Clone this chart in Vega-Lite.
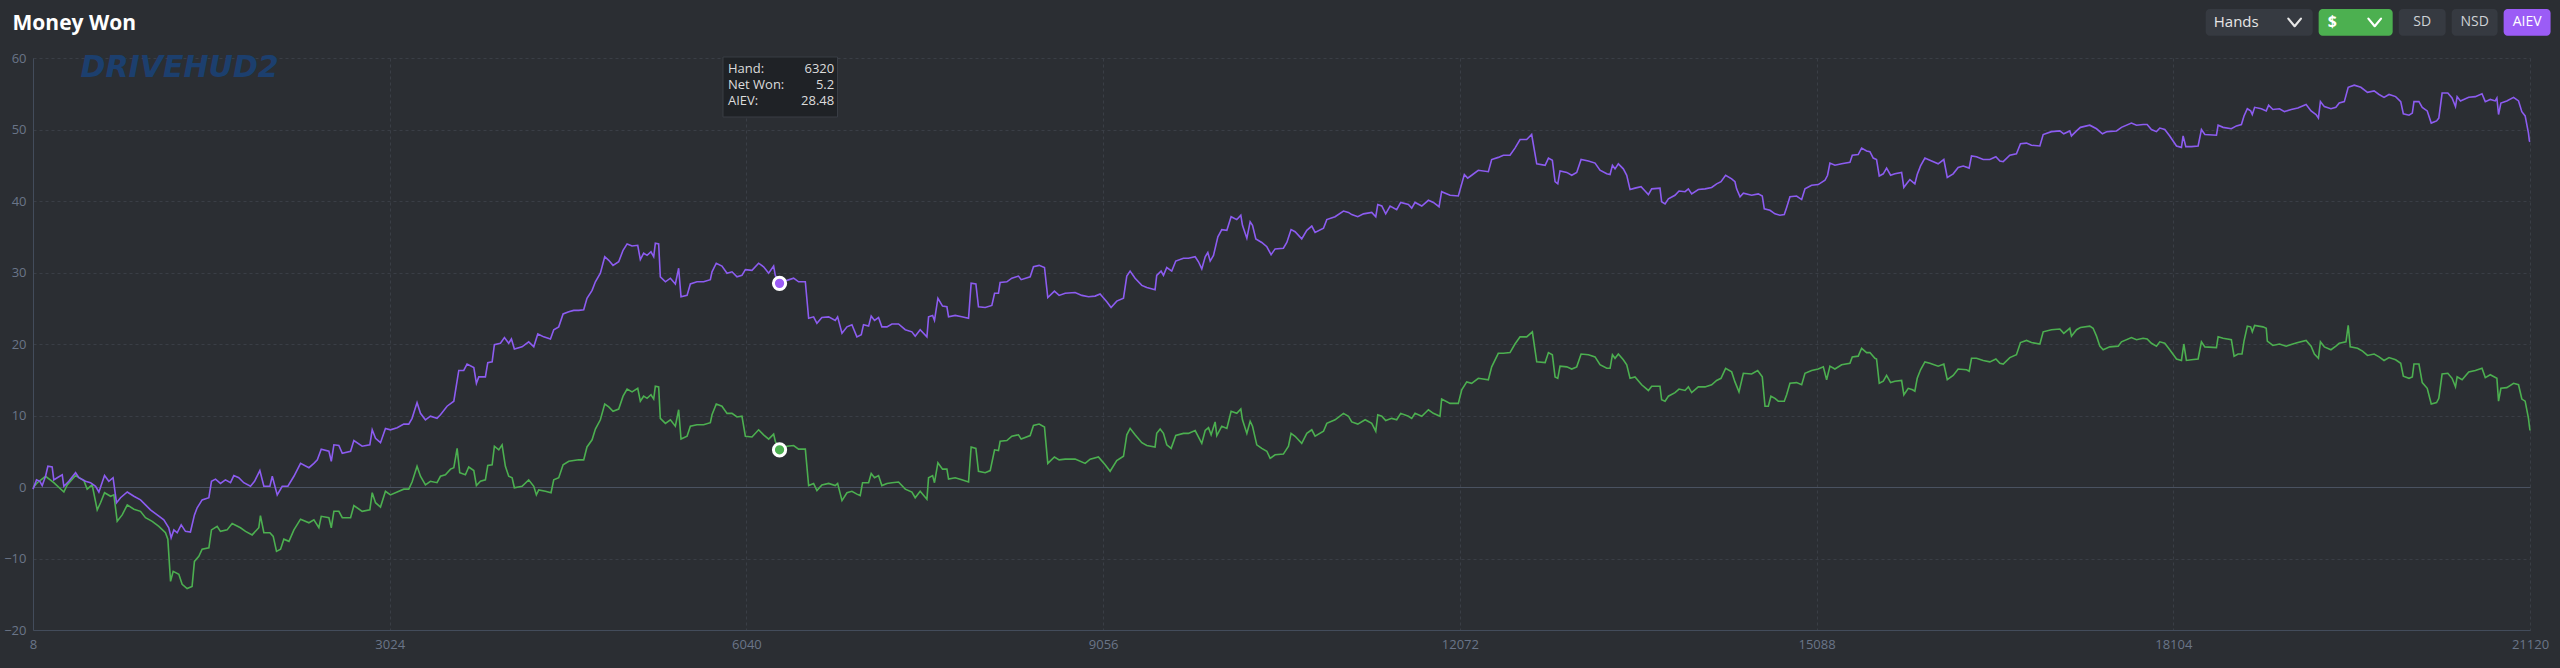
{
  "$schema": "https://vega.github.io/schema/vega-lite/v6.json",
  "description": "Money Won",
  "width": 2497,
  "height": 572,
  "autosize": {"type": "none"},
  "padding": {"left": 33, "top": 58, "right": 30, "bottom": 38},
  "background": "#2b2e33",
  "data": {"values": [{}]},
  "datasets": {
    "aiev": [
      {"hand":8,"value":-0.3},{"hand":38,"value":1.0},{"hand":66,"value":0.8},{"hand":86,"value":0.2},{"hand":114,"value":1.5},{"hand":134,"value":2.9},{"hand":170,"value":2.8},{"hand":184,"value":1.0},{"hand":213,"value":1.3},{"hand":255,"value":1.7},{"hand":269,"value":0.1},{"hand":311,"value":0.8},{"hand":368,"value":2.0},{"hand":396,"value":1.3},{"hand":452,"value":0.8},{"hand":494,"value":0.6},{"hand":537,"value":0.1},{"hand":565,"value":-0.7},{"hand":613,"value":1.6},{"hand":649,"value":0.8},{"hand":685,"value":1.3},{"hand":714,"value":-2.2},{"hand":748,"value":-1.5},{"hand":805,"value":-0.7},{"hand":861,"value":-1.3},{"hand":917,"value":-1.8},{"hand":959,"value":-2.5},{"hand":1001,"value":-3.2},{"hand":1058,"value":-3.9},{"hand":1114,"value":-4.6},{"hand":1156,"value":-5.7},{"hand":1176,"value":-7.1},{"hand":1199,"value":-6.0},{"hand":1227,"value":-6.4},{"hand":1261,"value":-5.3},{"hand":1297,"value":-6.2},{"hand":1339,"value":-6.3},{"hand":1373,"value":-3.9},{"hand":1396,"value":-2.9},{"hand":1438,"value":-1.8},{"hand":1495,"value":-1.5},{"hand":1517,"value":0.8},{"hand":1551,"value":1.1},{"hand":1593,"value":0.5},{"hand":1635,"value":1.0},{"hand":1678,"value":0.6},{"hand":1706,"value":1.6},{"hand":1748,"value":1.3},{"hand":1790,"value":0.6},{"hand":1847,"value":0.1},{"hand":1881,"value":0.8},{"hand":1926,"value":2.3},{"hand":1960,"value":0.1},{"hand":2011,"value":0.1},{"hand":2031,"value":1.5},{"hand":2073,"value":-1.1},{"hand":2115,"value":0.1},{"hand":2163,"value":0.1},{"hand":2214,"value":1.5},{"hand":2270,"value":3.3},{"hand":2341,"value":2.7},{"hand":2383,"value":3.3},{"hand":2412,"value":3.8},{"hand":2445,"value":5.3},{"hand":2510,"value":5.0},{"hand":2530,"value":3.6},{"hand":2552,"value":5.9},{"hand":2594,"value":5.8},{"hand":2623,"value":4.7},{"hand":2693,"value":5.0},{"hand":2721,"value":6.5},{"hand":2791,"value":5.7},{"hand":2856,"value":5.9},{"hand":2876,"value":8.0},{"hand":2904,"value":6.8},{"hand":2946,"value":6.2},{"hand":2988,"value":8.2},{"hand":3030,"value":8.0},{"hand":3087,"value":8.3},{"hand":3143,"value":8.8},{"hand":3185,"value":8.8},{"hand":3213,"value":9.6},{"hand":3255,"value":11.8},{"hand":3284,"value":10.3},{"hand":3326,"value":9.4},{"hand":3368,"value":9.9},{"hand":3424,"value":9.6},
      {"hand":3453,"value":10.1},{"hand":3509,"value":11.3},{"hand":3566,"value":12.0},{"hand":3608,"value":16.3},{"hand":3650,"value":16.3},{"hand":3678,"value":17.2},{"hand":3735,"value":16.7},{"hand":3757,"value":14.5},{"hand":3777,"value":15.4},{"hand":3833,"value":15.4},{"hand":3853,"value":17.4},{"hand":3890,"value":17.5},{"hand":3909,"value":19.9},{"hand":3960,"value":20.1},{"hand":3994,"value":20.9},{"hand":4030,"value":20.1},{"hand":4053,"value":20.7},{"hand":4078,"value":19.3},{"hand":4143,"value":19.6},{"hand":4199,"value":20.3},{"hand":4242,"value":19.6},{"hand":4276,"value":21.4},{"hand":4326,"value":21.0},{"hand":4383,"value":20.7},{"hand":4411,"value":22.0},{"hand":4453,"value":22.4},{"hand":4490,"value":24.2},{"hand":4538,"value":24.5},{"hand":4580,"value":24.7},{"hand":4622,"value":24.7},{"hand":4664,"value":24.8},{"hand":4692,"value":26.4},{"hand":4735,"value":27.5},{"hand":4763,"value":28.7},{"hand":4805,"value":29.9},{"hand":4842,"value":32.2},{"hand":4876,"value":31.7},{"hand":4912,"value":31.0},{"hand":4960,"value":31.5},{"hand":4997,"value":33.1},{"hand":5031,"value":34.0},{"hand":5073,"value":33.7},{"hand":5121,"value":33.8},{"hand":5143,"value":31.8},{"hand":5171,"value":32.7},{"hand":5200,"value":32.4},{"hand":5233,"value":32.9},{"hand":5256,"value":32.2},{"hand":5270,"value":34.1},{"hand":5298,"value":34.0},{"hand":5312,"value":29.4},{"hand":5355,"value":28.7},{"hand":5397,"value":29.2},{"hand":5439,"value":28.4},{"hand":5467,"value":30.6},{"hand":5487,"value":26.6},{"hand":5538,"value":26.8},{"hand":5566,"value":28.4},{"hand":5622,"value":28.7},{"hand":5678,"value":28.7},{"hand":5735,"value":29.0},{"hand":5749,"value":30.1},{"hand":5785,"value":31.3},{"hand":5833,"value":30.9},{"hand":5876,"value":29.9},{"hand":5918,"value":30.1},{"hand":5960,"value":29.4},{"hand":6002,"value":29.6},{"hand":6031,"value":30.4},{"hand":6087,"value":30.3},{"hand":6143,"value":31.3},{"hand":6185,"value":30.8},{"hand":6228,"value":29.9},{"hand":6270,"value":30.9},{"hand":6284,"value":29.6},{"hand":6320,"value":28.48},{"hand":6383,"value":28.9},{"hand":6439,"value":29.2},{"hand":6481,"value":28.7},{"hand":6538,"value":28.7},{"hand":6566,"value":23.6},{"hand":6608,"value":23.8},{"hand":6636,"value":22.9},{"hand":6678,"value":23.7},{"hand":6735,"value":23.8},{"hand":6791,"value":23.3},{"hand":6811,"value":23.8},{"hand":6848,"value":21.5},{"hand":6890,"value":22.4},{"hand":6932,"value":22.7},
      {"hand":6974,"value":21.0},{"hand":7011,"value":21.3},{"hand":7030,"value":22.7},{"hand":7073,"value":22.5},{"hand":7095,"value":23.9},{"hand":7123,"value":23.3},{"hand":7157,"value":23.7},{"hand":7185,"value":22.4},{"hand":7228,"value":22.4},{"hand":7270,"value":22.8},{"hand":7326,"value":22.8},{"hand":7383,"value":22.0},{"hand":7439,"value":21.7},{"hand":7467,"value":21.1},{"hand":7509,"value":22.0},{"hand":7566,"value":21.0},{"hand":7580,"value":23.8},{"hand":7614,"value":24.0},{"hand":7630,"value":23.3},{"hand":7659,"value":26.4},{"hand":7698,"value":25.3},{"hand":7735,"value":25.2},{"hand":7749,"value":23.8},{"hand":7805,"value":24.0},{"hand":7861,"value":23.8},{"hand":7918,"value":23.6},{"hand":7940,"value":28.5},{"hand":7980,"value":28.4},{"hand":8002,"value":25.2},{"hand":8059,"value":25.1},{"hand":8115,"value":25.4},{"hand":8138,"value":27.1},{"hand":8171,"value":27.1},{"hand":8185,"value":28.6},{"hand":8242,"value":28.7},{"hand":8284,"value":29.2},{"hand":8340,"value":29.5},{"hand":8363,"value":29.0},{"hand":8439,"value":29.4},{"hand":8467,"value":30.8},{"hand":8515,"value":31.0},{"hand":8560,"value":30.7},{"hand":8588,"value":26.5},{"hand":8644,"value":27.4},{"hand":8684,"value":26.8},{"hand":8735,"value":27.1},{"hand":8819,"value":27.2},{"hand":8876,"value":26.8},{"hand":8932,"value":26.6},{"hand":8988,"value":26.7},{"hand":9030,"value":27.0},{"hand":9087,"value":25.9},{"hand":9123,"value":25.1},{"hand":9171,"value":26.0},{"hand":9228,"value":26.4},{"hand":9256,"value":29.5},{"hand":9284,"value":30.2},{"hand":9326,"value":29.2},{"hand":9383,"value":28.2},{"hand":9425,"value":27.9},{"hand":9495,"value":27.6},{"hand":9509,"value":29.6},{"hand":9546,"value":30.2},{"hand":9566,"value":29.6},{"hand":9594,"value":30.7},{"hand":9636,"value":30.2},{"hand":9670,"value":31.6},{"hand":9735,"value":32.0},{"hand":9777,"value":32.0},
      {"hand":9834,"value":32.2},{"hand":9862,"value":31.5},{"hand":9890,"value":30.5},{"hand":9919,"value":32.2},{"hand":9941,"value":32.8},{"hand":9961,"value":31.6},{"hand":9989,"value":32.4},{"hand":10026,"value":35.0},{"hand":10059,"value":36.0},{"hand":10102,"value":35.9},{"hand":10138,"value":37.8},{"hand":10186,"value":37.4},{"hand":10220,"value":38.0},{"hand":10234,"value":36.6},{"hand":10271,"value":34.8},{"hand":10299,"value":37.1},{"hand":10319,"value":36.6},{"hand":10347,"value":34.7},{"hand":10397,"value":34.2},{"hand":10440,"value":33.6},{"hand":10476,"value":32.5},{"hand":10510,"value":33.3},{"hand":10580,"value":33.4},{"hand":10609,"value":34.2},{"hand":10645,"value":36.0},{"hand":10679,"value":35.7},{"hand":10735,"value":34.7},{"hand":10778,"value":35.9},{"hand":10820,"value":36.5},{"hand":10848,"value":35.6},{"hand":10919,"value":36.2},{"hand":10947,"value":37.4},{"hand":11017,"value":37.8},{"hand":11088,"value":38.6},{"hand":11130,"value":38.4},{"hand":11158,"value":38.1},{"hand":11209,"value":37.8},{"hand":11257,"value":38.2},{"hand":11327,"value":38.4},{"hand":11361,"value":37.8},{"hand":11378,"value":39.5},{"hand":11412,"value":39.3},{"hand":11445,"value":38.2},{"hand":11482,"value":39.3},{"hand":11538,"value":38.8},{"hand":11572,"value":39.8},{"hand":11637,"value":39.5},{"hand":11665,"value":39.0},{"hand":11693,"value":39.8},{"hand":11750,"value":39.3},{"hand":11806,"value":40.1},{"hand":11848,"value":39.8},{"hand":11896,"value":39.2},{"hand":11918,"value":41.3},{"hand":11989,"value":40.8},{"hand":12059,"value":40.7},{"hand":12110,"value":43.7},{"hand":12138,"value":43.2},{"hand":12172,"value":43.6},{"hand":12228,"value":44.3},{"hand":12313,"value":44.1},{"hand":12341,"value":45.8},{"hand":12397,"value":46.1},{"hand":12440,"value":46.4},{"hand":12496,"value":46.4},{"hand":12538,"value":47.4},{"hand":12581,"value":48.6},{"hand":12637,"value":48.6},{"hand":12679,"value":49.3},
      {"hand":12722,"value":45.2},{"hand":12793,"value":45.0},{"hand":12821,"value":46.0},{"hand":12854,"value":45.7},{"hand":12877,"value":42.7},{"hand":12900,"value":42.4},{"hand":12919,"value":44.2},{"hand":12976,"value":44.0},{"hand":13018,"value":43.6},{"hand":13060,"value":44.0},{"hand":13097,"value":45.8},{"hand":13159,"value":45.6},{"hand":13215,"value":45.3},{"hand":13257,"value":44.3},{"hand":13314,"value":43.8},{"hand":13342,"value":43.7},{"hand":13362,"value":45.0},{"hand":13384,"value":44.5},{"hand":13412,"value":45.2},{"hand":13454,"value":44.5},{"hand":13483,"value":43.6},{"hand":13511,"value":41.6},{"hand":13553,"value":41.8},{"hand":13604,"value":42.0},{"hand":13638,"value":41.4},{"hand":13666,"value":40.9},{"hand":13694,"value":41.7},{"hand":13764,"value":41.8},{"hand":13778,"value":39.9},{"hand":13807,"value":39.6},{"hand":13835,"value":40.3},{"hand":13891,"value":40.8},{"hand":13925,"value":41.4},{"hand":13976,"value":41.3},{"hand":14004,"value":41.7},{"hand":14032,"value":41.0},{"hand":14088,"value":41.6},{"hand":14145,"value":41.7},{"hand":14201,"value":41.9},{"hand":14243,"value":42.4},{"hand":14280,"value":42.7},{"hand":14319,"value":43.6},{"hand":14370,"value":43.1},{"hand":14398,"value":42.7},{"hand":14412,"value":41.7},{"hand":14441,"value":40.6},{"hand":14469,"value":41.1},{"hand":14539,"value":40.8},{"hand":14595,"value":41.0},{"hand":14629,"value":40.7},{"hand":14646,"value":38.9},{"hand":14694,"value":38.7},{"hand":14736,"value":38.2},{"hand":14778,"value":38.0},{"hand":14815,"value":38.1},{"hand":14835,"value":39.1},{"hand":14863,"value":40.6},{"hand":14919,"value":40.7},{"hand":14962,"value":40.2},{"hand":14990,"value":41.7},{"hand":15046,"value":42.2},{"hand":15102,"value":42.3},{"hand":15159,"value":42.9},{"hand":15181,"value":43.6},{"hand":15201,"value":45.3},{"hand":15243,"value":45.0},{"hand":15300,"value":45.2},{"hand":15370,"value":45.4},{"hand":15390,"value":46.4},{"hand":15440,"value":46.5},{"hand":15469,"value":47.4},{"hand":15511,"value":47.0},
      {"hand":15539,"value":46.9},{"hand":15567,"value":46.0},{"hand":15595,"value":45.8},{"hand":15618,"value":43.5},{"hand":15652,"value":43.8},{"hand":15680,"value":44.6},{"hand":15714,"value":43.6},{"hand":15750,"value":43.8},{"hand":15807,"value":44.0},{"hand":15826,"value":41.9},{"hand":15849,"value":42.4},{"hand":15877,"value":43.0},{"hand":15919,"value":42.4},{"hand":15939,"value":43.7},{"hand":15967,"value":44.9},{"hand":16004,"value":46.0},{"hand":16046,"value":45.7},{"hand":16116,"value":45.2},{"hand":16164,"value":45.8},{"hand":16193,"value":43.3},{"hand":16243,"value":43.8},{"hand":16285,"value":44.7},{"hand":16328,"value":44.9},{"hand":16378,"value":44.6},{"hand":16398,"value":46.3},{"hand":16440,"value":46.2},{"hand":16497,"value":45.8},{"hand":16553,"value":45.8},{"hand":16604,"value":46.2},{"hand":16638,"value":45.6},{"hand":16666,"value":45.5},{"hand":16722,"value":46.4},{"hand":16778,"value":46.6},{"hand":16812,"value":48.0},{"hand":16863,"value":48.1},{"hand":16905,"value":47.8},{"hand":16976,"value":47.7},{"hand":17004,"value":49.3},{"hand":17074,"value":49.7},{"hand":17145,"value":49.8},{"hand":17178,"value":49.4},{"hand":17229,"value":49.8},{"hand":17243,"value":49.1},{"hand":17286,"value":49.8},{"hand":17319,"value":50.3},{"hand":17398,"value":50.6},{"hand":17455,"value":50.1},{"hand":17505,"value":49.4},{"hand":17545,"value":49.7},{"hand":17624,"value":49.8},{"hand":17666,"value":50.3},{"hand":17750,"value":50.9},{"hand":17793,"value":50.6},{"hand":17849,"value":50.7},{"hand":17883,"value":50.7},{"hand":17919,"value":50.0},{"hand":17962,"value":49.7},{"hand":17990,"value":50.2},{"hand":18032,"value":50.0},{"hand":18074,"value":49.1},{"hand":18131,"value":47.7},{"hand":18173,"value":47.5},{"hand":18187,"value":49.1},{"hand":18210,"value":47.6},{"hand":18257,"value":47.6},{"hand":18314,"value":47.7},{"hand":18342,"value":50.0},
      {"hand":18371,"value":49.3},{"hand":18469,"value":49.2},{"hand":18483,"value":50.6},{"hand":18525,"value":50.3},{"hand":18595,"value":50.1},{"hand":18638,"value":50.5},{"hand":18680,"value":50.7},{"hand":18702,"value":51.9},{"hand":18730,"value":52.9},{"hand":18758,"value":52.6},{"hand":18772,"value":52.1},{"hand":18792,"value":53.1},{"hand":18848,"value":52.9},{"hand":18890,"value":52.6},{"hand":18910,"value":53.4},{"hand":18946,"value":52.8},{"hand":19002,"value":52.9},{"hand":19044,"value":52.5},{"hand":19101,"value":52.8},{"hand":19157,"value":53.0},{"hand":19227,"value":53.5},{"hand":19269,"value":52.6},{"hand":19311,"value":52.1},{"hand":19331,"value":51.6},{"hand":19348,"value":53.9},{"hand":19381,"value":53.2},{"hand":19437,"value":52.9},{"hand":19479,"value":53.1},{"hand":19507,"value":53.7},{"hand":19550,"value":53.9},{"hand":19583,"value":55.9},{"hand":19634,"value":56.2},{"hand":19690,"value":55.9},{"hand":19746,"value":55.2},{"hand":19802,"value":55.4},{"hand":19844,"value":54.9},{"hand":19886,"value":54.5},{"hand":19928,"value":54.9},{"hand":19984,"value":54.6},{"hand":20027,"value":53.9},{"hand":20049,"value":52.2},{"hand":20097,"value":52.0},{"hand":20125,"value":52.3},{"hand":20139,"value":53.9},{"hand":20181,"value":53.9},{"hand":20209,"value":53.1},{"hand":20251,"value":52.6},{"hand":20285,"value":50.9},{"hand":20330,"value":51.2},{"hand":20349,"value":51.6},{"hand":20377,"value":55.1},{"hand":20425,"value":55.1},{"hand":20461,"value":54.4},{"hand":20490,"value":53.2},{"hand":20504,"value":54.6},{"hand":20532,"value":54.0},{"hand":20602,"value":54.5},{"hand":20658,"value":54.6},{"hand":20714,"value":55.0},{"hand":20742,"value":53.9},{"hand":20784,"value":54.2},{"hand":20826,"value":54.0},{"hand":20840,"value":54.4},{"hand":20854,"value":52.1},{"hand":20874,"value":53.7},{"hand":20924,"value":54.0},{"hand":20981,"value":54.5},{"hand":21023,"value":54.0},{"hand":21051,"value":52.5},{"hand":21079,"value":51.9},{"hand":21107,"value":49.5},{"hand":21115,"value":48.4},{"hand":21120,"value":48.3}
    ],
    "won": [
      {"hand":8,"value":-0.1},{"hand":44,"value":0.6},{"hand":114,"value":1.5},{"hand":184,"value":0.6},{"hand":269,"value":-0.7},{"hand":297,"value":0.3},{"hand":368,"value":1.6},{"hand":438,"value":0.9},{"hand":466,"value":-0.3},{"hand":508,"value":0.3},{"hand":551,"value":-3.2},{"hand":579,"value":-2.2},{"hand":613,"value":-0.8},{"hand":664,"value":-1.3},{"hand":692,"value":-1.1},{"hand":720,"value":-4.8},{"hand":762,"value":-3.9},{"hand":805,"value":-2.5},{"hand":861,"value":-3.1},{"hand":917,"value":-3.4},{"hand":959,"value":-4.3},{"hand":1016,"value":-4.8},{"hand":1072,"value":-5.5},{"hand":1128,"value":-6.4},{"hand":1148,"value":-7.3},{"hand":1171,"value":-13.2},{"hand":1193,"value":-11.8},{"hand":1241,"value":-12.2},{"hand":1269,"value":-13.6},{"hand":1311,"value":-14.2},{"hand":1353,"value":-13.9},{"hand":1373,"value":-10.4},{"hand":1410,"value":-9.7},{"hand":1438,"value":-8.7},{"hand":1495,"value":-8.5},{"hand":1517,"value":-6.0},{"hand":1565,"value":-5.5},{"hand":1593,"value":-6.2},{"hand":1649,"value":-6.0},{"hand":1692,"value":-5.1},{"hand":1762,"value":-5.7},{"hand":1805,"value":-6.2},{"hand":1861,"value":-6.7},{"hand":1917,"value":-5.7},{"hand":1931,"value":-4.0},{"hand":1960,"value":-6.4},{"hand":2011,"value":-6.4},{"hand":2039,"value":-6.9},{"hand":2067,"value":-9.0},{"hand":2101,"value":-8.7},{"hand":2129,"value":-7.3},{"hand":2172,"value":-7.6},{"hand":2214,"value":-6.0},{"hand":2270,"value":-4.5},{"hand":2341,"value":-5.0},{"hand":2383,"value":-4.6},{"hand":2425,"value":-5.7},{"hand":2445,"value":-4.1},{"hand":2510,"value":-4.3},{"hand":2530,"value":-5.7},{"hand":2552,"value":-3.4},{"hand":2594,"value":-3.4},{"hand":2623,"value":-4.3},{"hand":2693,"value":-4.3},{"hand":2721,"value":-2.6},{"hand":2791,"value":-3.4},{"hand":2856,"value":-3.2},{"hand":2876,"value":-0.8},{"hand":2904,"value":-2.2},{"hand":2946,"value":-2.8},{"hand":2988,"value":-0.6},{"hand":3030,"value":-1.1},{"hand":3087,"value":-0.7},{"hand":3143,"value":-0.3},{"hand":3185,"value":-0.3},{"hand":3213,"value":0.7},{"hand":3255,"value":2.9},{"hand":3284,"value":1.5},{"hand":3326,"value":0.3},{"hand":3368,"value":0.8},{"hand":3424,"value":0.6},
      {"hand":3453,"value":1.5},{"hand":3495,"value":1.7},{"hand":3538,"value":2.5},{"hand":3566,"value":2.7},{"hand":3594,"value":5.4},{"hand":3616,"value":2.0},{"hand":3664,"value":1.7},{"hand":3692,"value":2.8},{"hand":3735,"value":2.3},{"hand":3757,"value":0.2},{"hand":3791,"value":0.8},{"hand":3833,"value":1.0},{"hand":3853,"value":3.0},{"hand":3890,"value":3.1},{"hand":3909,"value":5.7},{"hand":3946,"value":5.2},{"hand":3974,"value":5.9},{"hand":4002,"value":2.9},{"hand":4030,"value":1.5},{"hand":4059,"value":1.3},{"hand":4078,"value":-0.1},{"hand":4143,"value":0.1},{"hand":4199,"value":1.0},{"hand":4242,"value":0.1},{"hand":4264,"value":-1.1},{"hand":4284,"value":-0.4},{"hand":4340,"value":-0.6},{"hand":4388,"value":-0.8},{"hand":4411,"value":1.0},{"hand":4453,"value":1.3},{"hand":4490,"value":3.1},{"hand":4538,"value":3.6},{"hand":4622,"value":3.8},{"hand":4664,"value":3.8},{"hand":4692,"value":5.6},{"hand":4735,"value":6.6},{"hand":4763,"value":8.1},{"hand":4805,"value":9.4},{"hand":4842,"value":11.6},{"hand":4876,"value":11.2},{"hand":4912,"value":10.6},{"hand":4960,"value":10.9},{"hand":4997,"value":12.7},{"hand":5031,"value":13.7},{"hand":5073,"value":13.3},{"hand":5121,"value":13.8},{"hand":5143,"value":12.0},{"hand":5171,"value":12.7},{"hand":5200,"value":12.4},{"hand":5233,"value":12.9},{"hand":5256,"value":12.3},{"hand":5270,"value":14.1},{"hand":5298,"value":14.0},{"hand":5312,"value":9.6},{"hand":5355,"value":8.9},{"hand":5397,"value":9.4},{"hand":5439,"value":8.5},{"hand":5467,"value":10.8},{"hand":5487,"value":6.7},{"hand":5538,"value":7.1},{"hand":5566,"value":8.5},{"hand":5622,"value":8.7},{"hand":5678,"value":8.7},{"hand":5735,"value":9.0},{"hand":5749,"value":10.1},{"hand":5785,"value":11.6},{"hand":5833,"value":11.3},{"hand":5876,"value":10.3},{"hand":5918,"value":10.3},{"hand":5960,"value":9.8},{"hand":6002,"value":9.9},{"hand":6031,"value":7.1},{"hand":6087,"value":7.0},{"hand":6143,"value":8.0},{"hand":6185,"value":7.3},{"hand":6228,"value":6.7},{"hand":6270,"value":7.4},{"hand":6284,"value":6.4},{"hand":6320,"value":5.2},{"hand":6383,"value":5.7},{"hand":6439,"value":5.8},{"hand":6481,"value":5.3},{"hand":6538,"value":5.3},{"hand":6566,"value":0.2},{"hand":6608,"value":0.5},{"hand":6636,"value":-0.5},{"hand":6678,"value":0.3},{"hand":6735,"value":0.5},{"hand":6791,"value":0.2},{"hand":6811,"value":0.5},{"hand":6848,"value":-1.9},{"hand":6890,"value":-0.8},{"hand":6932,"value":-0.6},
      {"hand":6974,"value":-1.0},{"hand":7002,"value":-1.2},{"hand":7022,"value":0.6},{"hand":7073,"value":0.6},{"hand":7095,"value":1.9},{"hand":7123,"value":1.3},{"hand":7157,"value":1.6},{"hand":7185,"value":0.2},{"hand":7228,"value":0.5},{"hand":7270,"value":0.6},{"hand":7326,"value":0.7},{"hand":7383,"value":-0.3},{"hand":7439,"value":-0.7},{"hand":7467,"value":-1.5},{"hand":7509,"value":-0.6},{"hand":7566,"value":-1.7},{"hand":7580,"value":1.3},{"hand":7614,"value":1.6},{"hand":7630,"value":0.6},{"hand":7659,"value":3.4},{"hand":7698,"value":2.5},{"hand":7735,"value":2.5},{"hand":7749,"value":1.1},{"hand":7805,"value":1.3},{"hand":7861,"value":1.0},{"hand":7918,"value":0.7},{"hand":7940,"value":5.6},{"hand":7980,"value":5.4},{"hand":8002,"value":2.2},{"hand":8059,"value":2.0},{"hand":8101,"value":2.3},{"hand":8138,"value":5.2},{"hand":8171,"value":5.1},{"hand":8185,"value":6.4},{"hand":8242,"value":6.5},{"hand":8284,"value":7.1},{"hand":8340,"value":7.3},{"hand":8363,"value":6.7},{"hand":8439,"value":7.2},{"hand":8467,"value":8.6},{"hand":8515,"value":8.8},{"hand":8560,"value":8.4},{"hand":8588,"value":3.3},{"hand":8644,"value":4.2},{"hand":8684,"value":3.8},{"hand":8735,"value":3.9},{"hand":8819,"value":3.9},{"hand":8904,"value":3.3},{"hand":8946,"value":3.9},{"hand":9016,"value":4.2},{"hand":9073,"value":3.1},{"hand":9115,"value":2.2},{"hand":9171,"value":3.7},{"hand":9228,"value":4.3},{"hand":9256,"value":7.3},{"hand":9284,"value":8.2},{"hand":9326,"value":7.3},{"hand":9383,"value":6.2},{"hand":9425,"value":5.8},{"hand":9495,"value":5.6},{"hand":9509,"value":7.5},{"hand":9538,"value":8.1},{"hand":9566,"value":7.5},{"hand":9594,"value":5.9},{"hand":9631,"value":5.4},{"hand":9670,"value":7.2},{"hand":9735,"value":7.5},{"hand":9777,"value":7.5},
      {"hand":9834,"value":7.9},{"hand":9868,"value":6.8},{"hand":9890,"value":6.1},{"hand":9919,"value":7.9},{"hand":9947,"value":8.3},{"hand":9969,"value":7.3},{"hand":10003,"value":9.1},{"hand":10017,"value":7.2},{"hand":10059,"value":8.5},{"hand":10102,"value":8.2},{"hand":10138,"value":10.6},{"hand":10186,"value":10.3},{"hand":10220,"value":10.9},{"hand":10234,"value":9.4},{"hand":10271,"value":7.5},{"hand":10299,"value":9.2},{"hand":10319,"value":8.5},{"hand":10355,"value":5.9},{"hand":10397,"value":5.4},{"hand":10440,"value":5.0},{"hand":10468,"value":4.0},{"hand":10510,"value":4.5},{"hand":10580,"value":4.6},{"hand":10623,"value":5.7},{"hand":10645,"value":7.5},{"hand":10679,"value":7.1},{"hand":10735,"value":6.1},{"hand":10778,"value":7.5},{"hand":10820,"value":8.0},{"hand":10848,"value":7.1},{"hand":10919,"value":7.8},{"hand":10947,"value":8.9},{"hand":11017,"value":9.4},{"hand":11088,"value":10.3},{"hand":11130,"value":9.9},{"hand":11158,"value":9.1},{"hand":11209,"value":8.8},{"hand":11271,"value":9.4},{"hand":11327,"value":8.9},{"hand":11361,"value":7.8},{"hand":11378,"value":10.1},{"hand":11412,"value":9.9},{"hand":11445,"value":9.3},{"hand":11496,"value":9.6},{"hand":11538,"value":9.4},{"hand":11572,"value":10.3},{"hand":11637,"value":9.9},{"hand":11665,"value":9.6},{"hand":11693,"value":10.3},{"hand":11750,"value":9.9},{"hand":11806,"value":10.8},{"hand":11848,"value":10.3},{"hand":11904,"value":9.9},{"hand":11918,"value":12.3},{"hand":11989,"value":11.7},{"hand":12059,"value":11.7},{"hand":12088,"value":13.6},{"hand":12130,"value":14.7},{"hand":12172,"value":14.5},{"hand":12228,"value":15.2},{"hand":12313,"value":15.0},{"hand":12341,"value":16.8},{"hand":12397,"value":18.7},{"hand":12440,"value":18.7},{"hand":12496,"value":18.8},{"hand":12538,"value":20.0},{"hand":12581,"value":21.0},{"hand":12637,"value":21.0},{"hand":12685,"value":21.7},
      {"hand":12722,"value":17.5},{"hand":12793,"value":17.4},{"hand":12821,"value":18.8},{"hand":12854,"value":18.5},{"hand":12877,"value":15.4},{"hand":12900,"value":15.2},{"hand":12919,"value":16.9},{"hand":12976,"value":16.8},{"hand":13018,"value":16.5},{"hand":13060,"value":16.8},{"hand":13097,"value":18.6},{"hand":13159,"value":18.5},{"hand":13215,"value":18.2},{"hand":13257,"value":17.1},{"hand":13314,"value":16.6},{"hand":13342,"value":16.6},{"hand":13362,"value":18.5},{"hand":13384,"value":18.0},{"hand":13412,"value":18.6},{"hand":13454,"value":17.8},{"hand":13483,"value":17.1},{"hand":13511,"value":15.2},{"hand":13553,"value":15.4},{"hand":13609,"value":14.3},{"hand":13666,"value":13.5},{"hand":13694,"value":14.1},{"hand":13764,"value":14.1},{"hand":13778,"value":12.2},{"hand":13807,"value":12.0},{"hand":13835,"value":12.7},{"hand":13891,"value":13.2},{"hand":13925,"value":13.7},{"hand":13976,"value":13.5},{"hand":14004,"value":14.0},{"hand":14032,"value":13.2},{"hand":14088,"value":14.0},{"hand":14145,"value":14.0},{"hand":14201,"value":14.3},{"hand":14243,"value":14.9},{"hand":14280,"value":15.2},{"hand":14319,"value":16.6},{"hand":14370,"value":16.1},{"hand":14398,"value":14.7},{"hand":14432,"value":13.3},{"hand":14469,"value":15.9},{"hand":14539,"value":15.8},{"hand":14590,"value":16.3},{"hand":14629,"value":15.4},{"hand":14652,"value":11.3},{"hand":14680,"value":11.3},{"hand":14702,"value":12.7},{"hand":14736,"value":12.4},{"hand":14764,"value":12.0},{"hand":14815,"value":12.0},{"hand":14835,"value":12.9},{"hand":14863,"value":14.5},{"hand":14919,"value":14.6},{"hand":14962,"value":14.3},{"hand":14990,"value":15.9},{"hand":15046,"value":16.3},{"hand":15102,"value":16.5},{"hand":15145,"value":16.8},{"hand":15173,"value":15.0},{"hand":15201,"value":16.9},{"hand":15243,"value":16.5},{"hand":15300,"value":17.1},{"hand":15370,"value":17.3},{"hand":15390,"value":18.2},{"hand":15440,"value":18.3},{"hand":15469,"value":19.4},{"hand":15511,"value":18.8},
      {"hand":15539,"value":18.8},{"hand":15581,"value":18.0},{"hand":15595,"value":17.9},{"hand":15618,"value":14.5},{"hand":15652,"value":14.8},{"hand":15680,"value":15.6},{"hand":15714,"value":14.6},{"hand":15750,"value":14.8},{"hand":15807,"value":14.9},{"hand":15826,"value":12.9},{"hand":15863,"value":13.8},{"hand":15900,"value":13.6},{"hand":15919,"value":13.4},{"hand":15939,"value":15.2},{"hand":15967,"value":16.4},{"hand":16004,"value":17.5},{"hand":16046,"value":17.3},{"hand":16116,"value":16.9},{"hand":16164,"value":17.2},{"hand":16193,"value":15.0},{"hand":16243,"value":15.6},{"hand":16285,"value":16.5},{"hand":16356,"value":16.4},{"hand":16378,"value":16.2},{"hand":16398,"value":18.0},{"hand":16440,"value":18.0},{"hand":16497,"value":17.7},{"hand":16553,"value":17.5},{"hand":16604,"value":17.9},{"hand":16638,"value":17.3},{"hand":16666,"value":17.2},{"hand":16722,"value":18.1},{"hand":16778,"value":18.5},{"hand":16812,"value":20.2},{"hand":16863,"value":20.5},{"hand":16905,"value":20.2},{"hand":16976,"value":20.0},{"hand":17004,"value":21.7},{"hand":17074,"value":22.0},{"hand":17145,"value":22.1},{"hand":17178,"value":21.5},{"hand":17229,"value":22.2},{"hand":17243,"value":21.1},{"hand":17286,"value":22.0},{"hand":17319,"value":22.3},{"hand":17398,"value":22.5},{"hand":17426,"value":22.2},{"hand":17455,"value":21.1},{"hand":17483,"value":19.7},{"hand":17511,"value":19.2},{"hand":17567,"value":19.6},{"hand":17638,"value":19.7},{"hand":17666,"value":20.3},{"hand":17750,"value":20.9},{"hand":17793,"value":20.6},{"hand":17849,"value":20.8},{"hand":17883,"value":20.7},{"hand":17919,"value":20.1},{"hand":17962,"value":19.7},{"hand":17990,"value":20.3},{"hand":18032,"value":20.1},{"hand":18074,"value":19.2},{"hand":18131,"value":17.9},{"hand":18173,"value":17.7},{"hand":18193,"value":20.0},{"hand":18215,"value":17.7},{"hand":18257,"value":17.8},{"hand":18314,"value":17.9},{"hand":18342,"value":20.3},
      {"hand":18371,"value":19.6},{"hand":18469,"value":19.5},{"hand":18483,"value":21.0},{"hand":18525,"value":20.8},{"hand":18595,"value":20.6},{"hand":18618,"value":18.3},{"hand":18652,"value":18.6},{"hand":18685,"value":18.6},{"hand":18702,"value":20.4},{"hand":18730,"value":22.5},{"hand":18758,"value":22.4},{"hand":18772,"value":21.7},{"hand":18792,"value":22.6},{"hand":18862,"value":22.4},{"hand":18890,"value":22.2},{"hand":18899,"value":20.4},{"hand":18946,"value":19.8},{"hand":19002,"value":20.0},{"hand":19058,"value":19.7},{"hand":19115,"value":20.0},{"hand":19157,"value":20.2},{"hand":19227,"value":20.5},{"hand":19269,"value":19.7},{"hand":19297,"value":18.6},{"hand":19331,"value":18.0},{"hand":19348,"value":20.3},{"hand":19381,"value":19.6},{"hand":19437,"value":19.2},{"hand":19479,"value":19.7},{"hand":19507,"value":20.1},{"hand":19564,"value":20.3},{"hand":19583,"value":22.6},{"hand":19600,"value":19.6},{"hand":19662,"value":19.4},{"hand":19704,"value":19.0},{"hand":19746,"value":18.4},{"hand":19802,"value":18.6},{"hand":19844,"value":18.2},{"hand":19886,"value":17.7},{"hand":19928,"value":18.1},{"hand":19984,"value":17.8},{"hand":20027,"value":17.3},{"hand":20049,"value":15.5},{"hand":20097,"value":15.2},{"hand":20125,"value":15.4},{"hand":20139,"value":17.2},{"hand":20181,"value":17.2},{"hand":20209,"value":14.6},{"hand":20251,"value":13.8},{"hand":20285,"value":11.6},{"hand":20330,"value":11.8},{"hand":20349,"value":12.4},{"hand":20377,"value":15.8},{"hand":20425,"value":15.9},{"hand":20461,"value":15.2},{"hand":20490,"value":14.0},{"hand":20504,"value":15.4},{"hand":20546,"value":15.0},{"hand":20602,"value":16.1},{"hand":20658,"value":16.3},{"hand":20714,"value":16.6},{"hand":20742,"value":15.3},{"hand":20784,"value":15.7},{"hand":20840,"value":15.2},{"hand":20854,"value":12.0},{"hand":20874,"value":13.8},{"hand":20924,"value":13.9},{"hand":20981,"value":14.5},{"hand":21023,"value":14.3},{"hand":21051,"value":12.3},{"hand":21079,"value":12.0},{"hand":21107,"value":9.6},{"hand":21115,"value":8.5},{"hand":21120,"value":7.9}
    ]
  },
  "layer": [
    {
      "mark": {"type": "text", "text": "DRIVEHUD2", "font": "DejaVu Sans", "fontWeight": "bold", "fontStyle": "italic", "fontSize": 30, "color": "#1c3f6e", "align": "left", "baseline": "alphabetic"},
      "encoding": {"x": {"datum": 410, "type": "quantitative"}, "y": {"datum": 57.3, "type": "quantitative"}}
    },
    {
      "data": {"name": "won"},
      "mark": {"type": "line", "color": "#4caf50", "strokeWidth": 1.6},
      "encoding": {
        "x": {"field": "hand", "type": "quantitative", "scale": {"domain": [8, 21120], "nice": false, "zero": false},
          "axis": {"values": [8, 3024, 6040, 9056, 12072, 15088, 18104, 21120], "format": "d", "title": null, "ticks": false, "labelPadding": 8, "grid": true, "gridColor": "#3a3e46", "gridDash": [3, 3], "domainColor": "#434c5b", "labelColor": "#6a7588", "labelFontSize": 13, "labelFont": "Open Sans", "labelFlush": false, "labelOverlap": false}},
        "y": {"field": "value", "type": "quantitative", "scale": {"domain": [-20, 60], "nice": false, "zero": false},
          "axis": {"values": [-20, -10, 0, 10, 20, 30, 40, 50, 60], "format": "d", "title": null, "ticks": false, "labelPadding": 7, "grid": true,
            "gridColor": {"condition": {"test": "datum.value === 0", "value": "#4a5261"}, "value": "#3a3e46"},
            "gridDash": {"condition": {"test": "datum.value === 0", "value": []}, "value": [3, 3]},
            "domainColor": "#434c5b", "labelColor": "#6a7588", "labelFontSize": 13, "labelFont": "Open Sans"}}
      }
    },
    {
      "data": {"name": "aiev"},
      "mark": {"type": "line", "color": "#8c5cf0", "strokeWidth": 1.6},
      "encoding": {"x": {"field": "hand", "type": "quantitative"}, "y": {"field": "value", "type": "quantitative"}}
    },
    {
      "data": {"name": "won"},
      "transform": [{"filter": "datum.hand === 6320"}],
      "mark": {"type": "circle", "size": 150, "fill": "#4caf50", "stroke": "#ffffff", "strokeWidth": 3, "opacity": 1},
      "encoding": {"x": {"field": "hand", "type": "quantitative"}, "y": {"field": "value", "type": "quantitative"}}
    },
    {
      "data": {"name": "aiev"},
      "transform": [{"filter": "datum.hand === 6320"}],
      "mark": {"type": "circle", "size": 150, "fill": "#9b5cf6", "stroke": "#ffffff", "strokeWidth": 3, "opacity": 1},
      "encoding": {"x": {"field": "hand", "type": "quantitative"}, "y": {"field": "value", "type": "quantitative"}}
    },
    {
      "mark": {"type": "rect", "fill": "#1f2226", "stroke": "#3a3e45", "strokeWidth": 1},
      "encoding": {"x": {"datum": 5842, "type": "quantitative"}, "x2": {"datum": 6810}, "y": {"datum": 60.14, "type": "quantitative"}, "y2": {"datum": 51.75}}
    },
    {
      "mark": {"type": "text", "text": ["Hand:", "Net Won:", "AIEV:"], "align": "left", "baseline": "alphabetic", "lineHeight": 16, "fontSize": 13, "font": "Open Sans", "color": "#dcdcdc"},
      "encoding": {"x": {"datum": 5884, "type": "quantitative"}, "y": {"datum": 57.9, "type": "quantitative"}}
    },
    {
      "mark": {"type": "text", "text": ["6320", "5.2", "28.48"], "align": "right", "baseline": "alphabetic", "lineHeight": 16, "fontSize": 13, "font": "Open Sans", "color": "#dcdcdc"},
      "encoding": {"x": {"datum": 6782, "type": "quantitative"}, "y": {"datum": 57.9, "type": "quantitative"}}
    },
    {
      "mark": {"type": "text", "text": "Money Won", "align": "left", "baseline": "alphabetic", "fontSize": 21, "fontWeight": "bold", "font": "Open Sans", "color": "#ffffff"},
      "encoding": {"x": {"datum": -165, "type": "quantitative"}, "y": {"datum": 63.96, "type": "quantitative"}}
    },
    {
      "mark": {"type": "rect", "fill": "#363a41", "cornerRadius": 4},
      "encoding": {"x": {"datum": 18378, "type": "quantitative"}, "x2": {"datum": 19283}, "y": {"datum": 66.85, "type": "quantitative"}, "y2": {"datum": 63.12}}
    },
    {
      "mark": {"type": "rect", "fill": "#4cb050", "cornerRadius": 4},
      "encoding": {"x": {"datum": 19333, "type": "quantitative"}, "x2": {"datum": 19959}, "y": {"datum": 66.85, "type": "quantitative"}, "y2": {"datum": 63.12}}
    },
    {
      "mark": {"type": "rect", "fill": "#363a41", "cornerRadius": 4},
      "encoding": {"x": {"datum": 20010, "type": "quantitative"}, "x2": {"datum": 20407}, "y": {"datum": 66.85, "type": "quantitative"}, "y2": {"datum": 63.12}}
    },
    {
      "mark": {"type": "rect", "fill": "#363a41", "cornerRadius": 4},
      "encoding": {"x": {"datum": 20458, "type": "quantitative"}, "x2": {"datum": 20846}, "y": {"datum": 66.85, "type": "quantitative"}, "y2": {"datum": 63.12}}
    },
    {
      "mark": {"type": "rect", "fill": "#9b5cf6", "cornerRadius": 4},
      "encoding": {"x": {"datum": 20897, "type": "quantitative"}, "x2": {"datum": 21294}, "y": {"datum": 66.85, "type": "quantitative"}, "y2": {"datum": 63.12}}
    },
    {
      "mark": {"type": "text", "text": "Hands", "align": "left", "baseline": "middle", "fontSize": 15, "font": "Open Sans", "color": "#e6e6e6"},
      "encoding": {"x": {"datum": 18446, "type": "quantitative"}, "y": {"datum": 64.98, "type": "quantitative"}}
    },
    {
      "mark": {"type": "text", "text": "$", "align": "left", "baseline": "middle", "fontSize": 16, "fontWeight": "bold", "font": "Open Sans", "color": "#ffffff"},
      "encoding": {"x": {"datum": 19409, "type": "quantitative"}, "y": {"datum": 64.98, "type": "quantitative"}}
    },
    {
      "mark": {"type": "text", "text": "SD", "align": "center", "baseline": "middle", "fontSize": 14, "font": "Open Sans", "color": "#cfd2d6"},
      "encoding": {"x": {"datum": 20208, "type": "quantitative"}, "y": {"datum": 64.98, "type": "quantitative"}}
    },
    {
      "mark": {"type": "text", "text": "NSD", "align": "center", "baseline": "middle", "fontSize": 14, "font": "Open Sans", "color": "#cfd2d6"},
      "encoding": {"x": {"datum": 20652, "type": "quantitative"}, "y": {"datum": 64.98, "type": "quantitative"}}
    },
    {
      "mark": {"type": "text", "text": "AIEV", "align": "center", "baseline": "middle", "fontSize": 14, "font": "Open Sans", "color": "#ffffff"},
      "encoding": {"x": {"datum": 21096, "type": "quantitative"}, "y": {"datum": 64.98, "type": "quantitative"}}
    },
    {
      "mark": {"type": "point", "shape": "M-1,-0.6L0,0.6L1,-0.6", "size": 160, "filled": false, "stroke": "#e6e6e6", "strokeWidth": 2.2, "strokeCap": "round", "strokeJoin": "round", "opacity": 1},
      "encoding": {"x": {"datum": 19130, "type": "quantitative"}, "y": {"datum": 64.98, "type": "quantitative"}}
    },
    {
      "mark": {"type": "point", "shape": "M-1,-0.6L0,0.6L1,-0.6", "size": 160, "filled": false, "stroke": "#ffffff", "strokeWidth": 2.2, "strokeCap": "round", "strokeJoin": "round", "opacity": 1},
      "encoding": {"x": {"datum": 19807, "type": "quantitative"}, "y": {"datum": 64.98, "type": "quantitative"}}
    }
  ],
  "config": {
    "view": {"stroke": null},
    "font": "Open Sans"
  }
}
